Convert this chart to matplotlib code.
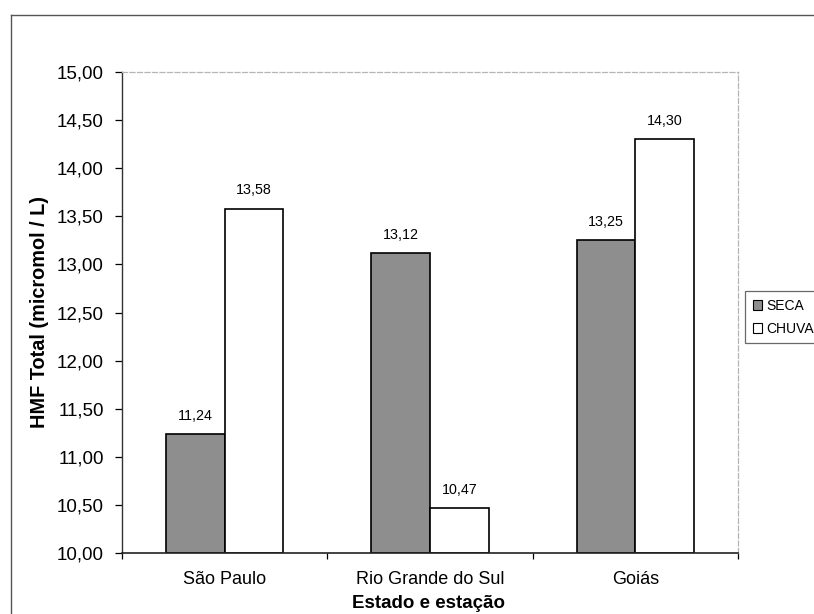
import matplotlib
matplotlib.use("Agg")
import matplotlib.pyplot as plt
from matplotlib.lines import Line2D
from matplotlib.patches import Patch
import numpy as np

plt.rcParams['font.family'] = ['Liberation Sans', 'DejaVu Sans']

categories = ["São Paulo", "Rio Grande do Sul", "Goiás"]
seca = [11.24, 13.12, 13.25]
chuva = [13.58, 10.47, 14.30]
y_ticks = [10.0, 10.5, 11.0, 11.5, 12.0, 12.5, 13.0, 13.5, 14.0, 14.5, 15.0]
series_names = ["SECA", "CHUVA"]


def fmt(v):
    return f"{v:.2f}".replace(".", ",")


fig = plt.figure(figsize=(8.14, 6.14), dpi=100)
ax = fig.add_axes([122 / 814, 61 / 614, 616 / 814, 481 / 614])

x = np.arange(len(categories))
w = 0.285
ax.bar(x - w / 2, np.array(seca) - 10, w, bottom=10, color="#8e8e8e",
       edgecolor="black", linewidth=1.2)
ax.bar(x + w / 2, np.array(chuva) - 10, w, bottom=10, color="white",
       edgecolor="black", linewidth=1.2)

for xi, v in zip(x - w / 2, seca):
    ax.annotate(fmt(v), (xi, v), xytext=(0, 8), textcoords="offset points",
                ha="center", va="bottom", fontsize=10.3)
for xi, v in zip(x + w / 2, chuva):
    ax.annotate(fmt(v), (xi, v), xytext=(0, 8), textcoords="offset points",
                ha="center", va="bottom", fontsize=10.3)

ax.set_xlim(-0.5, 2.5)
ax.set_ylim(10, 15)
ax.set_yticks(y_ticks)
ax.set_yticklabels([fmt(t) for t in y_ticks], fontsize=13.5)
ax.tick_params(axis="y", direction="out", length=5, width=0.9, pad=8)

ax.set_xticks(x)
ax.set_xticklabels(categories, fontsize=13)
ax.set_xticks([-0.5, 0.5, 1.5, 2.5], minor=True)
ax.tick_params(axis="x", which="major", length=0, pad=13)
ax.tick_params(axis="x", which="minor", direction="out", length=4, width=0.9)

ax.set_ylabel("HMF Total (micromol / L)", fontsize=14.3, fontweight="bold",
              labelpad=6)
fig.text(428 / 814, 1 - 604 / 614, "Estado e estação", fontsize=13.5,
         fontweight="bold", ha="center", va="center")

for side in ("top", "right"):
    ax.spines[side].set_color("#b5b5b5")
    ax.spines[side].set_linestyle((0, (4, 2)))
    ax.spines[side].set_linewidth(0.9)
ax.spines["left"].set_color("#333333")
ax.spines["bottom"].set_color("#222222")
ax.spines["left"].set_linewidth(1.0)
ax.spines["bottom"].set_linewidth(1.2)

# outer chart frame (left and top edges)
fig.add_artist(Line2D([11 / 814, 11 / 814], [-0.02, 1 - 15 / 614],
                      transform=fig.transFigure, color="#555555", lw=1.0))
fig.add_artist(Line2D([11 / 814, 1.02], [1 - 15 / 614, 1 - 15 / 614],
                      transform=fig.transFigure, color="#555555", lw=1.0))

handles = [Patch(facecolor="#8e8e8e", edgecolor="black", linewidth=0.8),
           Patch(facecolor="white", edgecolor="black", linewidth=0.8)]
leg = fig.legend(handles, series_names, loc="upper left",
                 bbox_to_anchor=(745 / 814, 1 - 291 / 614), fontsize=10,
                 frameon=True, fancybox=False, handlelength=0.7,
                 handleheight=0.7, handletextpad=0.3, borderpad=0.55,
                 labelspacing=0.65, borderaxespad=0)
leg.get_frame().set_edgecolor("#444444")
leg.get_frame().set_linewidth(0.9)

fig.savefig("out.png", dpi=100)
